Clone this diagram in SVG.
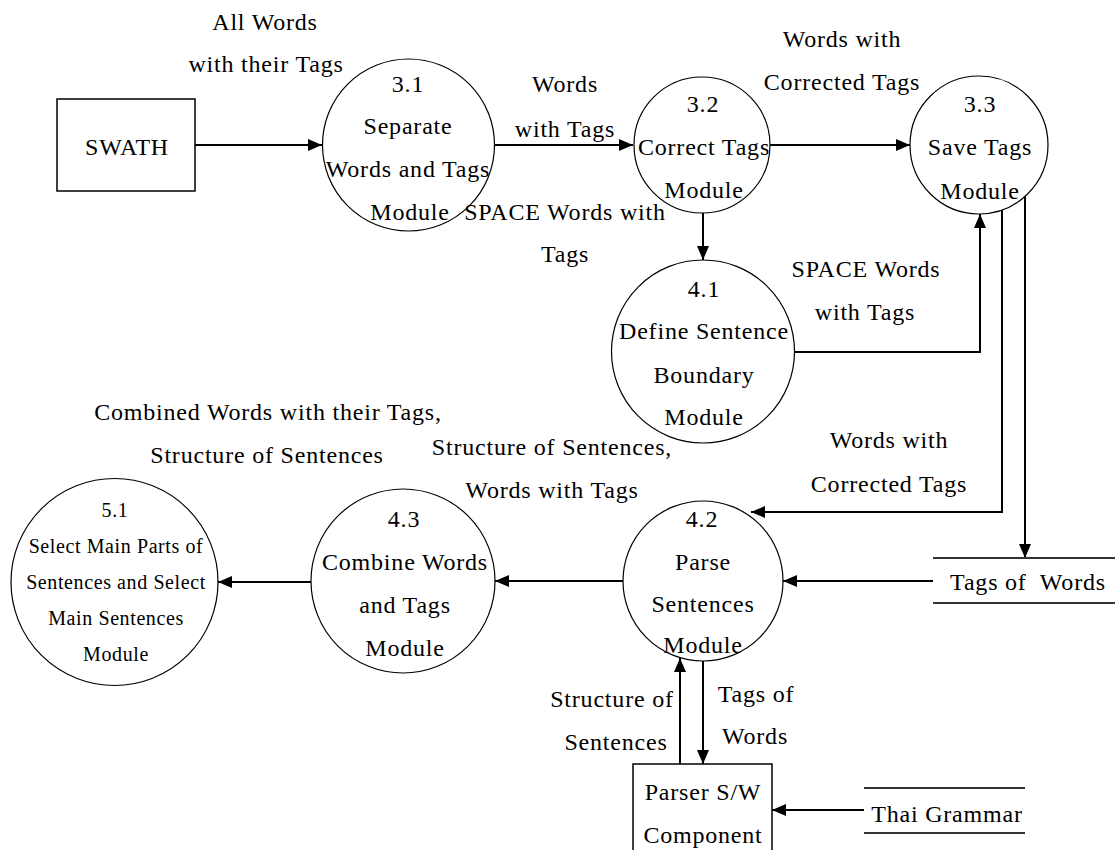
<svg xmlns="http://www.w3.org/2000/svg" width="1115" height="850" viewBox="0 0 1115 850" font-family="'Liberation Serif', 'Times New Roman', 'DejaVu Serif', serif">
<style>
text{font-family:'Liberation Serif','Times New Roman','DejaVu Serif',serif;font-size:24px;fill:#000;text-anchor:middle;letter-spacing:0.8px}
.sm{font-size:20px;letter-spacing:0.6px}
.pre{white-space:pre}
.bub{fill:#fff;stroke:#000;stroke-width:1.2}
.box{fill:#fff;stroke:#000;stroke-width:1.5}
.store{stroke:#333;stroke-width:1.8;fill:none}
.c{fill:none;stroke:#000;stroke-width:2}
</style>
<defs>
<marker id="ah" markerUnits="userSpaceOnUse" markerWidth="14" markerHeight="12" refX="14" refY="6" orient="auto">
<path d="M0,0 L14,6 L0,12 z" fill="#000"/>
</marker>
</defs>
<rect width="1115" height="850" fill="#fff"/>
<g id="connectors">
<path class="c" d="M195,145 H322" marker-end="url(#ah)"/>
<path class="c" d="M495,145 H633" marker-end="url(#ah)"/>
<path class="c" d="M770,145 H910" marker-end="url(#ah)"/>
<path class="c" d="M703,213 V260" marker-end="url(#ah)"/>
<path class="c" d="M795,352 H980 V214" marker-end="url(#ah)"/>
<path class="c" d="M1002,210 V512 H751" marker-end="url(#ah)"/>
<path class="c" d="M1025,196 V558" marker-end="url(#ah)"/>
<path class="c" d="M933,581 H783" marker-end="url(#ah)"/>
<path class="c" d="M623,581 H495" marker-end="url(#ah)"/>
<path class="c" d="M311,582 H218" marker-end="url(#ah)"/>
<path class="c" d="M680,764 V658" marker-end="url(#ah)"/>
<path class="c" d="M703,661 V764" marker-end="url(#ah)"/>
<path class="c" d="M864,810 H772" marker-end="url(#ah)"/>
<text x="265" y="30">All Words</text>
<text x="266" y="72">with their Tags</text>
<text x="565" y="92">Words</text>
<text x="565" y="137">with Tags</text>
<text x="842" y="47">Words with</text>
<text x="842" y="90">Corrected Tags</text>
<text x="565" y="262">Tags</text>
<text x="866" y="277">SPACE Words</text>
<text x="865" y="320">with Tags</text>
<text x="889" y="448">Words with</text>
<text x="889" y="492">Corrected Tags</text>
<text x="268" y="420">Combined Words with their Tags,</text>
<text x="267" y="463">Structure of Sentences</text>
<text x="552" y="455">Structure of Sentences,</text>
<text x="552" y="498">Words with Tags</text>
<text x="612" y="707">Structure of</text>
<text x="616" y="750">Sentences</text>
<text x="756" y="702">Tags of</text>
<text x="755" y="744">Words</text>
</g>
<g id="swath">
<rect class="box" x="57" y="99" width="138" height="92"/>
<text x="127" y="155">SWATH</text>
</g>
<g id="p31">
<circle class="bub" cx="408.5" cy="145" r="86"/>
<text x="408" y="92">3.1</text>
<text x="408" y="134">Separate</text>
<text x="408" y="177">Words and Tags</text>
<text x="410" y="220">Module</text>
</g>
<g id="p32">
<circle class="bub" cx="702" cy="145" r="68"/>
<text x="703" y="112">3.2</text>
<text x="704" y="155">Correct Tags</text>
<text x="704" y="198">Module</text>
</g>
<g id="p33">
<circle class="bub" cx="979" cy="145" r="69"/>
<text x="980" y="112">3.3</text>
<text x="980" y="155">Save Tags</text>
<text x="980" y="199">Module</text>
</g>
<g id="p41">
<circle class="bub" cx="703" cy="351.5" r="91.5"/>
<text x="704" y="297">4.1</text>
<text x="704" y="339">Define Sentence</text>
<text x="704" y="383">Boundary</text>
<text x="704" y="425">Module</text>
</g>
<text x="565" y="220" id="lbl-space">SPACE Words with</text>
<g id="p42">
<circle class="bub" cx="703" cy="581" r="80"/>
<text x="702" y="527">4.2</text>
<text x="703" y="570">Parse</text>
<text x="703" y="612">Sentences</text>
<text x="703" y="653">Module</text>
</g>
<g id="p43">
<circle class="bub" cx="403" cy="581" r="92"/>
<text x="404" y="527">4.3</text>
<text x="405" y="570">Combine Words</text>
<text x="405" y="613">and Tags</text>
<text x="405" y="656">Module</text>
</g>
<g id="p51">
<circle class="bub" cx="114.5" cy="582" r="103.5"/>
<text class="sm" x="115" y="517">5.1</text>
<text class="sm" x="116" y="553">Select Main Parts of</text>
<text class="sm" x="116" y="589">Sentences and Select</text>
<text class="sm" x="116" y="625">Main Sentences</text>
<text class="sm" x="116" y="661">Module</text>
</g>
<g id="store-tags">
<path class="store" d="M933,558 H1115 M933,603 H1115"/>
<text class="pre" x="1028" y="590" xml:space="preserve">Tags of  Words</text>
</g>
<g id="parser">
<rect class="box" x="633" y="764" width="139" height="100"/>
<text x="703" y="800">Parser S/W</text>
<text x="703" y="843">Component</text>
</g>
<g id="store-grammar">
<path class="store" d="M864,788 H1025 M864,833 H1025"/>
<text x="947" y="822">Thai Grammar</text>
</g>
</svg>
